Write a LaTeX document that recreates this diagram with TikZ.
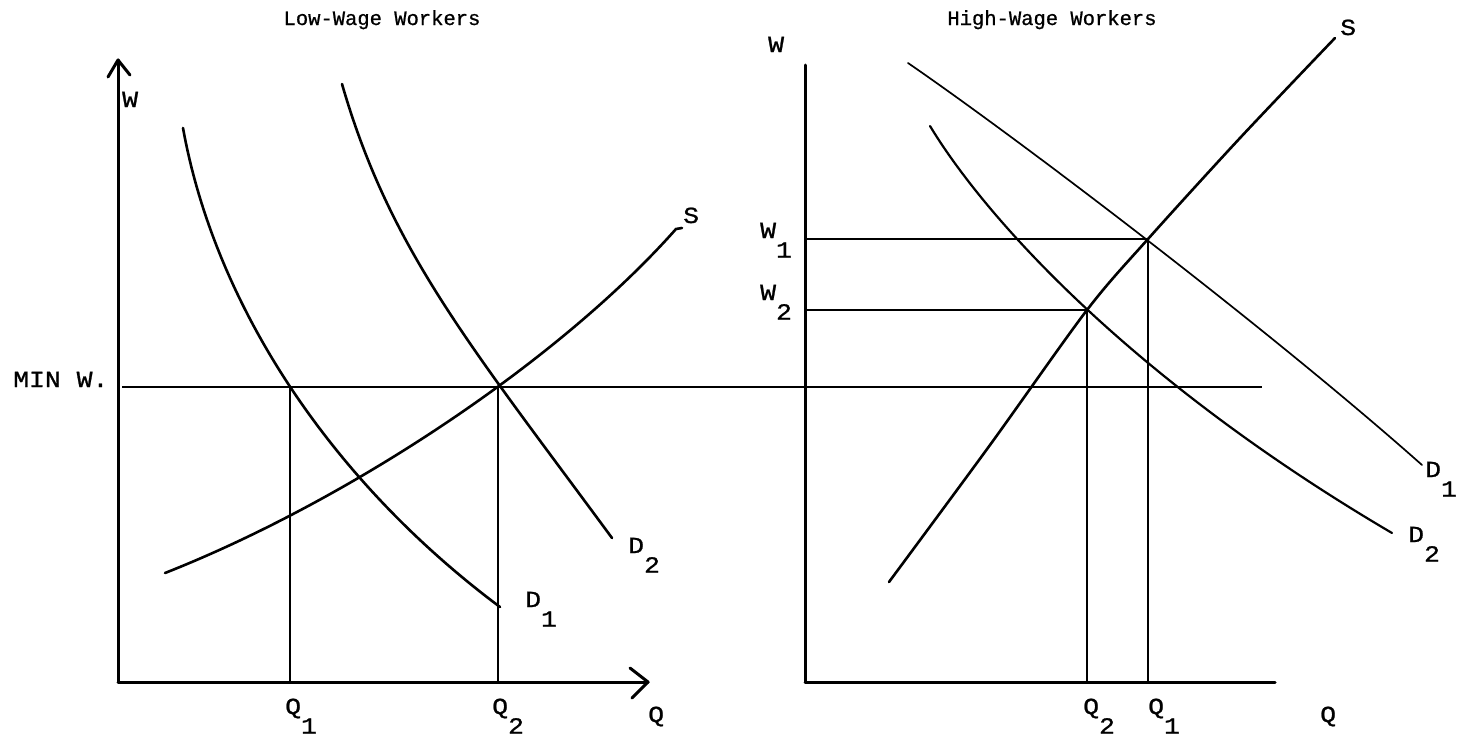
\documentclass[tikz,border=0pt]{standalone}
\usepackage{fontspec}
\newfontfamily\tw[FakeStretch=1.15,FakeBold=1]{Liberation Mono}
\newfontfamily\twt[FakeBold=0.8]{Liberation Mono}
\newcommand{\lsub}[2]{#1\raisebox{-0.85em}{#2}}
\begin{document}
\begin{tikzpicture}[x=1pt,y=-1pt,
  axisline/.style={line width=3pt,line cap=round},
  curve/.style={line width=2.6pt,line cap=round},
  thin/.style={line width=1.9pt},
  lab/.style={anchor=base west,inner sep=0pt,font=\tw\fontsize{23}{25}\selectfont},
  ttl/.style={anchor=base,inner sep=0pt,font=\twt\fontsize{20.5}{22}\selectfont}]
\useasboundingbox (0,0) rectangle (1468,747);
% ---------- left panel ----------
\coordinate (LO) at (118,682);
\coordinate (LYT) at (118,60);
\coordinate (LXT) at (648,682);
\draw[axisline] (LO) -- (LYT);
\draw[axisline] (LO) -- (LXT);
\draw[axisline,line join=round] (108,77) -- (LYT) -- (130,75);
\draw[axisline,line join=round] (630,668) -- (LXT) -- (632,698);
\coordinate (MW0) at (122,387);
\coordinate (MW1) at (1262,387);
\draw[thin] (MW0) -- (MW1);
\coordinate (LA) at (290,387);
\coordinate (LB) at (498,387);
\coordinate (LA0) at (290,682);
\coordinate (LB0) at (498,682);
\draw[thin] (LA) -- (LA0);
\draw[line width=2.6pt] (LB) -- (LB0);
\coordinate (LD1a) at (183,128);
\coordinate (LD1b) at (500,607);
\draw[curve] (LD1a) .. controls (215,305) and (330,480) .. (LD1b);
\coordinate (LD2a) at (342,84);
\coordinate (LD2b) at (612,538);
\draw[curve] (LD2a) .. controls (390,250) and (470,345) .. (LD2b);
\coordinate (LSa) at (165,573);
\coordinate (LSb) at (676,229);
\draw[curve] (LSa) .. controls (350,500) and (560,360) .. (LSb) -- (682,228);
\node[lab] (lW) at (122,107) {W};
\node[lab] (lMin) at (13,387) {MIN W.};
\node[lab] (lS) at (683,223) {S};
\node[lab] (lD2) at (628,553) {\lsub{D}{2}};
\node[lab] (lD1) at (525,607) {\lsub{D}{1}};
\node[lab] (lQ1) at (285,714) {\lsub{Q}{1}};
\node[lab] (lQ2) at (492,714) {\lsub{Q}{2}};
\node[lab] (lQ) at (648,722) {Q};
\node[ttl] (lT) at (382,25) {Low-Wage Workers};
% ---------- right panel ----------
\coordinate (RO) at (805,682);
\coordinate (RYT) at (805,65);
\coordinate (RXE) at (1275,682);
\draw[axisline] (RO) -- (RYT);
\draw[axisline] (RO) -- (RXE);
\coordinate (RW1) at (805,239);
\coordinate (RW2) at (805,310);
\coordinate (RP1) at (1148,239);
\coordinate (RP2) at (1087,310);
\coordinate (RQ1) at (1148,682);
\coordinate (RQ2) at (1087,682);
\draw[thin] (RW1) -- (RP1) -- (RQ1);
\draw[thin] (RW2) -- (RP2);
\draw[line width=2.8pt] (RP2) -- (RQ2);
\draw[curve] plot[smooth,tension=0.5] coordinates {(889,582) (990,445) (1087,310) (1148,239) (1240,138) (1335,38)};
\coordinate (RD1a) at (908,63);
\coordinate (RD1b) at (1422,465);
\draw[line width=1.7pt,line cap=round] (RD1a) .. controls (1020,140) and (1270,330) .. (RD1b);
\coordinate (RD2a) at (930,126);
\coordinate (RD2b) at (1392,533);
\draw[line width=2.2pt,line cap=round] (RD2a) .. controls (990,225) and (1140,385) .. (RD2b);
\node[lab] (rW) at (768,52) {W};
\node[lab] (rW1) at (760,238) {\lsub{W}{1}};
\node[lab] (rW2) at (760,300) {\lsub{W}{2}};
\node[lab] (rS) at (1340,35) {S};
\node[lab] (rD1) at (1425,477) {\lsub{D}{1}};
\node[lab] (rD2) at (1408,542) {\lsub{D}{2}};
\node[lab] (rQ2) at (1083,714) {\lsub{Q}{2}};
\node[lab] (rQ1) at (1148,714) {\lsub{Q}{1}};
\node[lab] (rQ) at (1320,722) {Q};
\node[ttl] (rT) at (1052,25) {High-Wage Workers};
\end{tikzpicture}
\end{document}
